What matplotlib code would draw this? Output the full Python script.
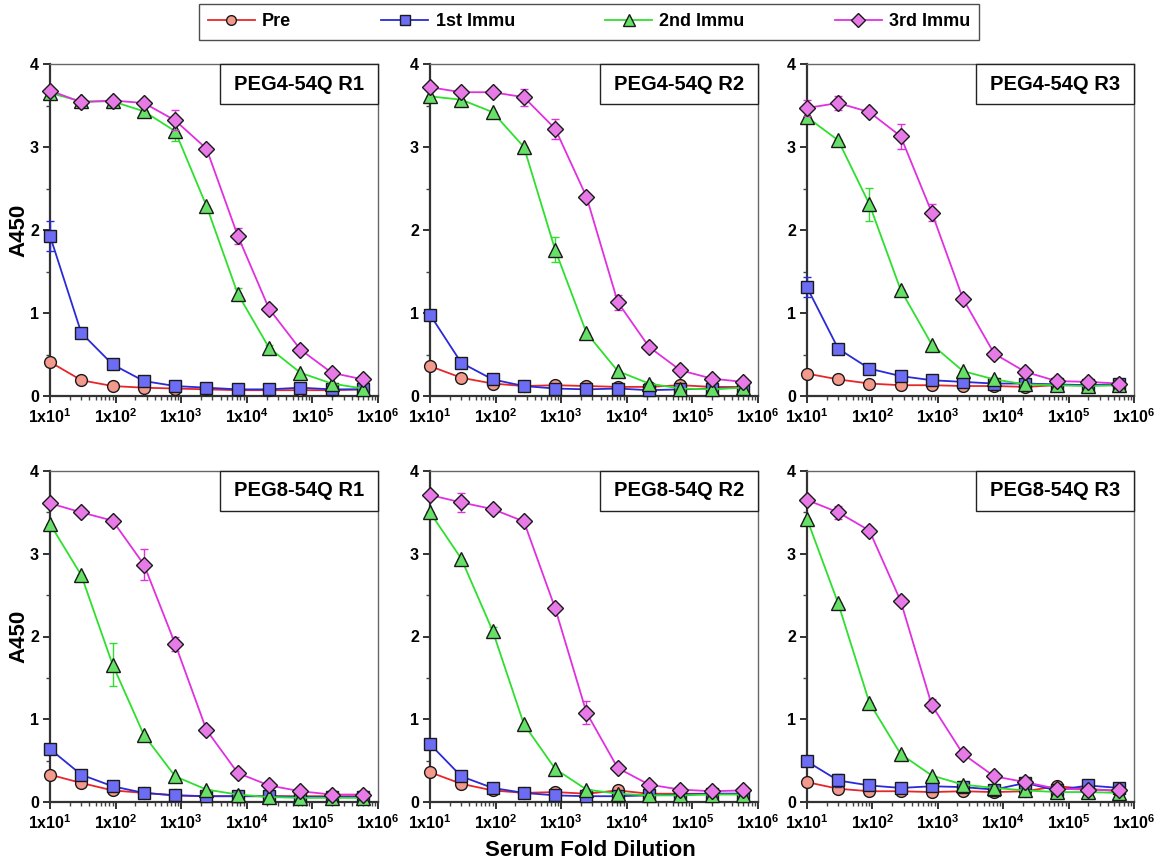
import numpy as np
import matplotlib
matplotlib.use("Agg")
import matplotlib.pyplot as plt
from matplotlib.patches import Rectangle
from matplotlib.lines import Line2D
from matplotlib.ticker import LogLocator, MultipleLocator, NullFormatter

plt.rcParams['font.family'] = ['Liberation Sans', 'DejaVu Sans']
plt.rcParams['mathtext.fontset'] = 'custom'
plt.rcParams['mathtext.bf'] = 'Liberation Sans:bold'
plt.rcParams['mathtext.rm'] = 'Liberation Sans:bold'
plt.rcParams['mathtext.default'] = 'bf'

# ---------------- data ----------------
dilution = [10, 30, 90, 270, 810, 2430, 7290, 21870, 65610, 196830, 590490]
series_names = ["Pre", "1st Immu", "2nd Immu", "3rd Immu"]
panel_titles = ["PEG4-54Q R1", "PEG4-54Q R2", "PEG4-54Q R3",
                "PEG8-54Q R1", "PEG8-54Q R2", "PEG8-54Q R3"]
xtick_values = [1e1, 1e2, 1e3, 1e4, 1e5, 1e6]
xtick_labels = ["1x10$^{1}$", "1x10$^{2}$", "1x10$^{3}$", "1x10$^{4}$", "1x10$^{5}$", "1x10$^{6}$"]

# PEG4-54Q R1
p1_pre = [0.41, 0.19, 0.12, 0.10, 0.09, 0.08, 0.07, 0.07, 0.07, 0.07, 0.08]
p1_1st = [1.93, 0.76, 0.38, 0.18, 0.12, 0.10, 0.08, 0.08, 0.10, 0.08, 0.08]
p1_2nd = [3.65, 3.55, 3.55, 3.43, 3.19, 2.29, 1.23, 0.58, 0.28, 0.15, 0.09]
p1_3rd = [3.68, 3.54, 3.56, 3.53, 3.32, 2.98, 1.93, 1.05, 0.56, 0.28, 0.20]
p1_err_1st = [0.18, 0, 0, 0, 0, 0, 0, 0, 0, 0, 0]
p1_err_2nd = [0, 0, 0, 0, 0.12, 0, 0.07, 0.04, 0, 0, 0]
p1_err_3rd = [0, 0, 0, 0, 0.12, 0, 0.10, 0, 0, 0, 0]

# PEG4-54Q R2
p2_pre = [0.36, 0.22, 0.15, 0.12, 0.13, 0.12, 0.11, 0.11, 0.13, 0.11, 0.11]
p2_1st = [0.98, 0.40, 0.20, 0.12, 0.09, 0.08, 0.09, 0.07, 0.08, 0.09, 0.10]
p2_2nd = [3.61, 3.57, 3.42, 3.00, 1.76, 0.76, 0.30, 0.15, 0.09, 0.08, 0.10]
p2_3rd = [3.72, 3.66, 3.66, 3.60, 3.22, 2.40, 1.13, 0.59, 0.31, 0.21, 0.17]
p2_err_1st = [0, 0, 0, 0, 0, 0, 0, 0, 0, 0, 0]
p2_err_2nd = [0, 0, 0, 0, 0.15, 0, 0, 0, 0, 0, 0]
p2_err_3rd = [0, 0, 0, 0.10, 0.12, 0, 0.09, 0, 0, 0, 0]

# PEG4-54Q R3
p3_pre = [0.27, 0.20, 0.15, 0.13, 0.13, 0.12, 0.12, 0.11, 0.13, 0.13, 0.13]
p3_1st = [1.31, 0.57, 0.33, 0.24, 0.19, 0.17, 0.15, 0.15, 0.14, 0.13, 0.14]
p3_2nd = [3.36, 3.08, 2.31, 1.28, 0.62, 0.30, 0.20, 0.14, 0.13, 0.12, 0.13]
p3_3rd = [3.47, 3.53, 3.42, 3.13, 2.21, 1.17, 0.51, 0.29, 0.18, 0.17, 0.15]
p3_err_1st = [0.12, 0, 0, 0, 0, 0, 0, 0, 0, 0, 0]
p3_err_2nd = [0, 0, 0.20, 0, 0, 0, 0, 0, 0, 0, 0]
p3_err_3rd = [0.10, 0.08, 0, 0.15, 0.10, 0, 0, 0, 0, 0, 0]

# PEG8-54Q R1
p4_pre = [0.33, 0.23, 0.14, 0.11, 0.08, 0.07, 0.07, 0.07, 0.07, 0.07, 0.07]
p4_1st = [0.64, 0.33, 0.19, 0.11, 0.08, 0.07, 0.07, 0.07, 0.06, 0.06, 0.06]
p4_2nd = [3.36, 2.74, 1.66, 0.81, 0.31, 0.15, 0.09, 0.06, 0.05, 0.05, 0.05]
p4_3rd = [3.61, 3.50, 3.40, 2.87, 1.91, 0.87, 0.35, 0.20, 0.13, 0.09, 0.09]
p4_err_1st = [0.05, 0, 0, 0, 0, 0, 0, 0, 0, 0, 0]
p4_err_2nd = [0, 0, 0.26, 0, 0, 0, 0, 0, 0, 0, 0]
p4_err_3rd = [0, 0, 0, 0.19, 0.08, 0, 0, 0, 0, 0, 0]

# PEG8-54Q R2
p5_pre = [0.36, 0.22, 0.14, 0.11, 0.12, 0.10, 0.14, 0.10, 0.10, 0.10, 0.10]
p5_1st = [0.70, 0.31, 0.17, 0.11, 0.08, 0.07, 0.07, 0.08, 0.09, 0.10, 0.10]
p5_2nd = [3.50, 2.94, 2.07, 0.94, 0.40, 0.15, 0.10, 0.08, 0.08, 0.09, 0.09]
p5_3rd = [3.71, 3.62, 3.54, 3.39, 2.34, 1.08, 0.41, 0.21, 0.15, 0.13, 0.14]
p5_err_1st = [0, 0, 0, 0, 0, 0, 0, 0, 0, 0, 0]
p5_err_2nd = [0, 0, 0.05, 0, 0, 0, 0, 0, 0, 0, 0]
p5_err_3rd = [0, 0.12, 0, 0, 0, 0.14, 0, 0, 0, 0, 0]

# PEG8-54Q R3
p6_pre = [0.24, 0.16, 0.13, 0.13, 0.12, 0.13, 0.12, 0.13, 0.19, 0.16, 0.13]
p6_1st = [0.49, 0.26, 0.20, 0.17, 0.19, 0.18, 0.15, 0.23, 0.14, 0.20, 0.17]
p6_2nd = [3.42, 2.40, 1.20, 0.58, 0.32, 0.21, 0.17, 0.14, 0.12, 0.12, 0.11]
p6_3rd = [3.65, 3.50, 3.28, 2.43, 1.17, 0.58, 0.31, 0.24, 0.16, 0.15, 0.14]
p6_err_1st = [0, 0.08, 0, 0, 0, 0, 0, 0, 0, 0, 0]
p6_err_2nd = [0, 0, 0, 0, 0, 0, 0, 0, 0, 0, 0]
p6_err_3rd = [0, 0.08, 0, 0, 0.07, 0, 0, 0, 0, 0, 0]

zeros = [0] * len(dilution)
panels = [
    (p1_pre, p1_1st, p1_2nd, p1_3rd, zeros, p1_err_1st, p1_err_2nd, p1_err_3rd),
    (p2_pre, p2_1st, p2_2nd, p2_3rd, zeros, p2_err_1st, p2_err_2nd, p2_err_3rd),
    (p3_pre, p3_1st, p3_2nd, p3_3rd, zeros, p3_err_1st, p3_err_2nd, p3_err_3rd),
    (p4_pre, p4_1st, p4_2nd, p4_3rd, zeros, p4_err_1st, p4_err_2nd, p4_err_3rd),
    (p5_pre, p5_1st, p5_2nd, p5_3rd, zeros, p5_err_1st, p5_err_2nd, p5_err_3rd),
    (p6_pre, p6_1st, p6_2nd, p6_3rd, zeros, p6_err_1st, p6_err_2nd, p6_err_3rd),
]

# ---------------- styles ----------------
line_colors = ["#e8262a", "#2a2ad8", "#2ee02e", "#e030e0"]
face_colors = ["#f49a8c", "#6c6cf4", "#66e066", "#e77ae7"]
markers = ["o", "s", "^", "D"]
msizes = [8.5, 8.5, 9.5, 8.5]

W, H = 1167, 865
fig = plt.figure(figsize=(W / 100, H / 100), dpi=100)

col_left = [50, 430, 807]
col_w = [328, 328, 327]
row_top = [64, 471]
row_h = [332, 331]

axes = []
for i in range(6):
    r, c = divmod(i, 3)
    ax = fig.add_axes([col_left[c] / W, 1 - (row_top[r] + row_h[r]) / H,
                       col_w[c] / W, row_h[r] / H])
    axes.append(ax)
    data = panels[i]
    for s in range(4):
        y = data[s]
        e = data[4 + s]
        ax.errorbar(dilution, y, yerr=e, color=line_colors[s], lw=1.3,
                    ecolor=line_colors[s], elinewidth=1.0, capsize=3, capthick=1.0,
                    marker=markers[s], markersize=msizes[s],
                    markerfacecolor=face_colors[s], markeredgecolor="#1a1a1a",
                    markeredgewidth=1.0, clip_on=False, zorder=3 + s)
    ax.set_xscale("log")
    ax.set_xlim(10, 1e6)
    ax.set_ylim(0, 4)
    ax.set_xticks(xtick_values)
    ax.set_xticklabels(xtick_labels)
    ax.xaxis.set_minor_locator(LogLocator(base=10, subs=np.arange(2, 10), numticks=20))
    ax.xaxis.set_minor_formatter(NullFormatter())
    ax.set_yticks([0, 1, 2, 3, 4])
    ax.yaxis.set_minor_locator(MultipleLocator(0.5))
    ax.tick_params(axis="both", which="major", direction="out", length=5, width=1.3,
                   labelsize=11.5, pad=3, colors="#222222")
    ax.tick_params(axis="both", which="minor", direction="out", length=3, width=1.0,
                   colors="#444444")
    for lab in ax.get_xticklabels() + ax.get_yticklabels():
        lab.set_fontweight("bold")
        lab.set_color("black")
    for sp in ["left", "bottom"]:
        ax.spines[sp].set_linewidth(1.6)
        ax.spines[sp].set_color("#333333")
    for sp in ["top", "right"]:
        ax.spines[sp].set_linewidth(1.0)
        ax.spines[sp].set_color("#666666")
    # title box in upper right
    bx0 = 1 - 158 / col_w[c]
    by0 = 1 - 40 / row_h[r]
    ax.add_patch(Rectangle((bx0, by0), 1 - bx0, 1 - by0, transform=ax.transAxes,
                           facecolor="white", edgecolor="#222222", lw=1.0, zorder=10,
                           clip_on=False))
    ax.text((bx0 + 1) / 2, (by0 + 1) / 2, panel_titles[i], transform=ax.transAxes,
            ha="center", va="center", fontsize=14.5, fontweight="bold", zorder=11)
    if c == 0:
        ax.set_ylabel("A450", fontsize=16, fontweight="bold")
        ax.yaxis.set_label_coords(-21 / col_w[c], 0.5)

fig.text(590 / W, 1 - 851 / H, "Serum Fold Dilution", ha="center", va="center",
         fontsize=16, fontweight="bold")

# legend
handles = [Line2D([0], [0], color=line_colors[s], lw=1.3, marker=markers[s],
                  markersize=msizes[s] - 1.5, markerfacecolor=face_colors[s],
                  markeredgecolor="#1a1a1a", markeredgewidth=1.0) for s in range(4)]
leg = fig.legend(handles, series_names, loc="center", ncol=4,
                 bbox_to_anchor=(589 / W, 1 - 22 / H), frameon=True, fancybox=False,
                 edgecolor="#222222", handlelength=2.6, columnspacing=5.0,
                 handletextpad=0.4, borderpad=0.5,
                 prop={"weight": "bold", "size": 13})
leg.get_frame().set_linewidth(1.0)

fig.savefig("out.png", dpi=100)
